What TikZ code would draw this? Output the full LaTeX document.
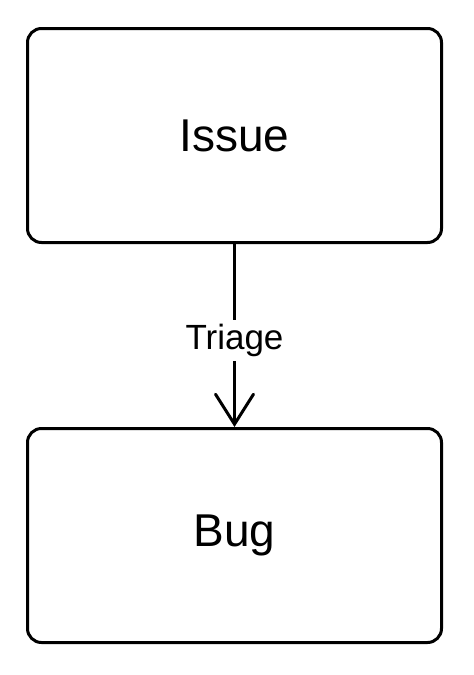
\documentclass[tikz,border=0pt]{standalone}
\usepackage{fontspec}
\setmainfont{Liberation Sans}
\usetikzlibrary{
graphs,
positioning,
quotes,
arrows.meta,
}
\tikzset{
outer sep=auto,
every node/.style={align=center},
state/.style={rectangle, rounded corners=14pt, draw,
  minimum width=414pt, minimum height=214pt,
  font=\fontsize{46}{55}\selectfont},
every edge quotes/.style={fill=white, anchor=center, inner sep=4pt,
  yshift=-5pt, font=\fontsize{35}{42}\selectfont},
>={Straight Barb[length=30pt, width=38pt, line cap=round]},
}
\begin{document}
\begin{tikzpicture}[line width=3pt]
    \useasboundingbox (0,0) rectangle (474pt,-675pt);
    \node (issue) [state] at (234.5pt,-135.5pt) {Issue};
    \node (bug) [state, below=183pt of issue] {Bug};
\graph [use existing nodes] {
    issue ->["Triage"] bug;
};
\end{tikzpicture}
\end{document}
